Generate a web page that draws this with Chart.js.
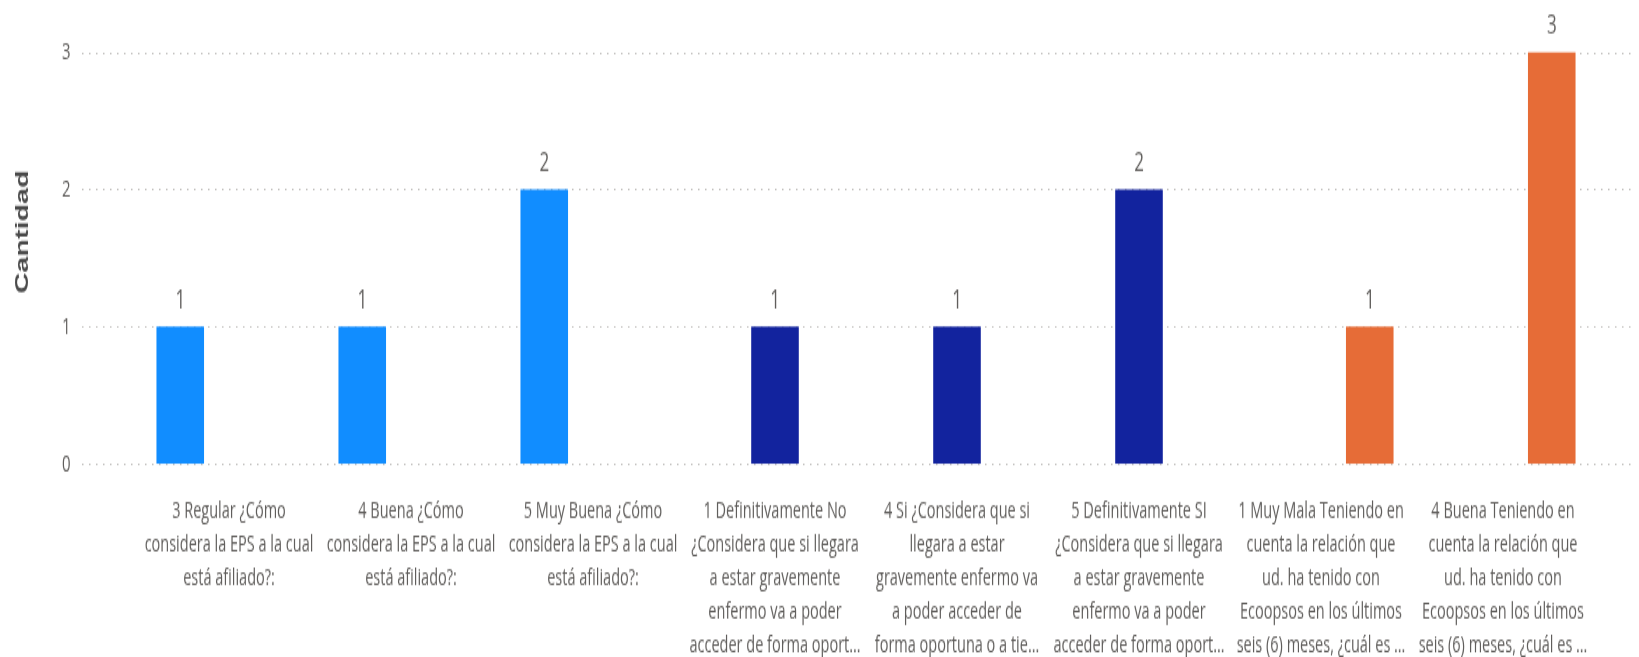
<!DOCTYPE html>
<html>
<head>
<meta charset="utf-8">
<script src="https://cdn.jsdelivr.net/npm/chart.js@4"></script>
<style>
  html, body { margin: 0; padding: 0; background: #fff; overflow: hidden; }
</style>
</head>
<body>
<!-- drawn at 411px tall and stretched to 657px, like the squeezed report export -->
<canvas id="chart" width="1639" height="411" style="display:block;width:1639px;height:657px"></canvas>
<script>
// categories (wrapped the way the report shows them)
const categorias = [
    ["3 Regular ¿Cómo", "considera la EPS a la cual", "está afiliado?:"],
    ["4 Buena ¿Cómo", "considera la EPS a la cual", "está afiliado?:"],
    ["5 Muy Buena ¿Cómo", "considera la EPS a la cual", "está afiliado?:"],
    ["1 Definitivamente No", "¿Considera que si llegara", "a estar gravemente", "enfermo va a poder", "acceder de forma oport…"],
    ["4 Si ¿Considera que si", "llegara a estar", "gravemente enfermo va", "a poder acceder de", "forma oportuna o a tie…"],
    ["5 Definitivamente SI", "¿Considera que si llegara", "a estar gravemente", "enfermo va a poder", "acceder de forma oport…"],
    ["1 Muy Mala Teniendo en", "cuenta la relación que", "ud. ha tenido con", "Ecoopsos en los últimos", "seis (6) meses, ¿cuál es …"],
    ["4 Buena Teniendo en", "cuenta la relación que", "ud. ha tenido con", "Ecoopsos en los últimos", "seis (6) meses, ¿cuál es …"]
];

const afiliacionEPS   = [1, 1, 2, null, null, null, null, null];
const accesoOportuno  = [null, null, null, 1, 1, 2, null, null];
const relacionEcoopsos = [null, null, null, null, null, null, 1, 3];

const yTicks = [0, 1, 2, 3];

const GRIS = '#605E5C';

// dotted horizontal guides, a bit wider than the plot area
const guias = {
    id: 'guias',
    beforeDatasetsDraw(chart) {
        const ctx = chart.ctx;
        const y = chart.scales.y;
        ctx.save();
        ctx.strokeStyle = '#C3C1BF';
        ctx.lineWidth = 1;
        ctx.setLineDash([1.5, 5.5]);
        yTicks.forEach(v => {
            const py = Math.round(y.getPixelForValue(v)) + 0.5;
            ctx.beginPath();
            ctx.moveTo(82, py);
            ctx.lineTo(1636, py);
            ctx.stroke();
        });
        ctx.restore();
    }
};

// value labels above bars + rotated axis title
const etiquetas = {
    id: 'etiquetas',
    afterDatasetsDraw(chart) {
        const ctx = chart.ctx;
        ctx.save();
        ctx.fillStyle = GRIS;
        ctx.font = '17px "Open Sans", sans-serif';
        ctx.textAlign = 'center';
        ctx.textBaseline = 'middle';
        chart.data.datasets.forEach((ds, i) => {
            chart.getDatasetMeta(i).data.forEach((bar, j) => {
                const v = ds.data[j];
                if (v === null) return;
                ctx.fillText(String(v), bar.x, bar.y - 16);
            });
        });
        ctx.translate(23, 145);
        ctx.rotate(-Math.PI / 2);
        ctx.fillStyle = '#4A4A4A';
        ctx.font = 'bold 18px "Liberation Sans", Arial, sans-serif';
        ctx.fillText('Cantidad', 0, 0);
        ctx.restore();
    }
};

const data = {
    labels: categorias,
    datasets: [{
        label: '¿Cómo considera la EPS a la cual está afiliado?',
        data: afiliacionEPS,
        backgroundColor: '#118DFF'
    }, {
        label: '¿Considera que si llegara a estar gravemente enfermo...?',
        data: accesoOportuno,
        backgroundColor: '#12239E'
    }, {
        label: 'Relación con Ecoopsos en los últimos seis (6) meses',
        data: relacionEcoopsos,
        backgroundColor: '#E66C37'
    }]
};

const config = {
    type: 'bar',
    data: data,
    options: {
        responsive: false,
        animation: false,
        devicePixelRatio: 1,
        categoryPercentage: 0.8036,
        barPercentage: 0.976,
        layout: { padding: { top: 32.5, right: 45, left: 62, bottom: 0 } },
        plugins: {
            legend: { display: false },
            tooltip: { enabled: false }
        },
        scales: {
            x: {
                grid: { display: false, drawTicks: false },
                border: { display: false },
                ticks: {
                    autoSkip: false,
                    maxRotation: 0,
                    minRotation: 0,
                    padding: 19.5,
                    color: GRIS,
                    font: { family: '"Open Sans", sans-serif', size: 14.5, lineHeight: '21px' }
                },
                afterFit(scale) { scale.height = 411 - 290.3; }
            },
            y: {
                min: 0,
                max: 3,
                grid: { display: false, drawTicks: false },
                border: { display: false },
                ticks: {
                    stepSize: 1,
                    padding: 0,
                    crossAlign: 'far',
                    color: GRIS,
                    font: { family: '"Open Sans", sans-serif', size: 15 }
                },
                afterFit(scale) { scale.width = 138 - 62; }
            }
        }
    },
    plugins: [guias, etiquetas]
};

const myChart = new Chart(
    document.getElementById('chart'),
    config
);
</script>
</body>
</html>
